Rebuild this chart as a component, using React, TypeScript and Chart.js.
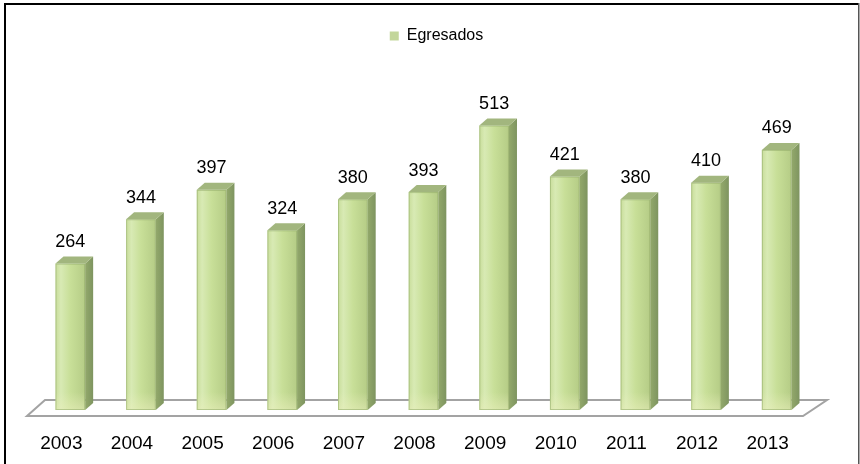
import React, { useEffect, useRef } from "react";
import { Chart, registerables } from "chart.js";

Chart.register(...registerables);

const years = ["2003", "2004", "2005", "2006", "2007", "2008", "2009", "2010", "2011", "2012", "2013"];
const egresados = [264, 344, 397, 324, 380, 393, 513, 421, 380, 410, 469];
const seriesName = "Egresados";

const Y_MAX = 642;
const DX = 8;
const DY = 7;
const BAR_PCT = 0.42;

const bar3d = {
  id: "bar3d",
  afterLayout(chart: any) {
    const l = chart.legend;
    if (l) {
      l.left += 13;
      l.right += 13;
    }
  },
  beforeDraw(chart: any) {
    const { ctx, width, height } = chart;
    ctx.save();
    ctx.fillStyle = "#ffffff";
    ctx.fillRect(0, 0, width, height);
    ctx.restore();
  },
  beforeDatasetsDraw(chart: any) {
    const { ctx, chartArea } = chart;
    const { left, right, bottom } = chartArea;
    ctx.save();
    ctx.beginPath();
    ctx.moveTo(left - 8, bottom + 6);
    ctx.lineTo(right - 9, bottom + 6);
    ctx.lineTo(right + 15, bottom - 10);
    ctx.lineTo(left + 10, bottom - 10);
    ctx.closePath();
    ctx.fillStyle = "#ffffff";
    ctx.fill();
    ctx.strokeStyle = "#a3a3a3";
    ctx.lineWidth = 2;
    ctx.stroke();
    ctx.restore();
  },
  afterDatasetsDraw(chart: any) {
    const { ctx } = chart;
    const meta = chart.getDatasetMeta(0);
    ctx.save();
    meta.data.forEach((el: any, i: number) => {
      const { x, y, base, width } = el.getProps(["x", "y", "base", "width"], true);
      const l = x - width / 2;
      const r = x + width / 2;
      // side face
      const sg = ctx.createLinearGradient(r, 0, r + DX, 0);
      sg.addColorStop(0, "#93a96b");
      sg.addColorStop(1, "#7e9460");
      ctx.beginPath();
      ctx.moveTo(r, y);
      ctx.lineTo(r + DX, y - DY);
      ctx.lineTo(r + DX, base - DY);
      ctx.lineTo(r, base);
      ctx.closePath();
      ctx.fillStyle = sg;
      ctx.fill();
      // top face
      ctx.beginPath();
      ctx.moveTo(l, y);
      ctx.lineTo(l + DX, y - DY);
      ctx.lineTo(r + DX, y - DY);
      ctx.lineTo(r, y);
      ctx.closePath();
      ctx.fillStyle = "#a2b67e";
      ctx.fill();
      // bottom reflection on the front face
      const bg = ctx.createLinearGradient(0, base - 18, 0, base);
      bg.addColorStop(0, "rgba(235,240,190,0)");
      bg.addColorStop(1, "rgba(235,240,190,0.55)");
      ctx.fillStyle = bg;
      ctx.fillRect(l, base - 18, width, 18);
      // front outline
      ctx.strokeStyle = "rgba(140,165,100,0.5)";
      ctx.lineWidth = 1;
      ctx.strokeRect(l + 0.5, y + 0.5, width - 1, base - y - 1);
      // label
      ctx.fillStyle = "#000000";
      ctx.font = "18px 'Liberation Sans', Arial, sans-serif";
      ctx.textAlign = "center";
      ctx.textBaseline = "middle";
      ctx.fillText(String(egresados[i]), x, y - 21.5);
    });
    ctx.restore();
  },
  afterDraw(chart: any) {
    const { ctx } = chart;
    ctx.save();
    ctx.fillStyle = "#000000";
    ctx.fillRect(4, 3, 855, 2);
    ctx.fillRect(4, 3, 2, 461);
    ctx.fillStyle = "#555555";
    ctx.fillRect(858, 3, 1.5, 461);
    ctx.restore();
  },
};

export default function App() {
  const ref = useRef<HTMLCanvasElement | null>(null);

  useEffect(() => {
    if (!ref.current) return;
    const chart = new Chart(ref.current, {
      type: "bar",
      data: {
        labels: years,
        datasets: [
          {
            label: seriesName,
            data: egresados,
            backgroundColor: (c: any) => {
              const ch = c.chart;
              const xs = ch.scales?.x;
              if (!xs || c.dataIndex === undefined) return "#c6dd9b";
              const cx = xs.getPixelForValue(c.dataIndex);
              const w = (xs.width / years.length) * BAR_PCT;
              const g = ch.ctx.createLinearGradient(cx - w / 2, 0, cx + w / 2, 0);
              g.addColorStop(0, "#c8dd9a");
              g.addColorStop(0.18, "#d8eab4");
              g.addColorStop(0.5, "#c8df98");
              g.addColorStop(1, "#b5cc86");
              return g;
            },
            borderWidth: 0,
            barPercentage: 0.6,
            categoryPercentage: 0.7,
          },
        ],
      },
      options: {
        responsive: true,
        maintainAspectRatio: false,
        animation: false,
        layout: { padding: { left: 35, right: 48, top: 18, bottom: 9 } },
        plugins: {
          legend: {
            display: true,
            position: "top",
            labels: {
              boxWidth: 9,
              boxHeight: 9,
              padding: 10,
              color: "#000000",
              font: { size: 16, family: "'Liberation Sans', Arial, sans-serif" },
              generateLabels: () => [
                {
                  text: seriesName,
                  fillStyle: "#c3d69b",
                  strokeStyle: "#c3d69b",
                  lineWidth: 0,
                  hidden: false,
                  datasetIndex: 0,
                },
              ],
            },
          },
          tooltip: { enabled: false },
        },
        scales: {
          x: {
            grid: { display: false, drawTicks: false },
            border: { display: false },
            afterFit: (s: any) => {
              s.height = 45;
            },
            ticks: {
              color: "#000000",
              padding: 22,
              labelOffset: -9,
              font: { size: 19, family: "'Liberation Sans', Arial, sans-serif" },
            },
          },
          y: {
            display: false,
            min: 0,
            max: Y_MAX,
          },
        },
      },
      plugins: [bar3d],
    });
    return () => chart.destroy();
  }, []);

  return (
    <div style={{ position: "absolute", left: 0, top: 0, width: 860, height: 464, background: "#fff" }}>
      <canvas ref={ref} />
    </div>
  );
}
